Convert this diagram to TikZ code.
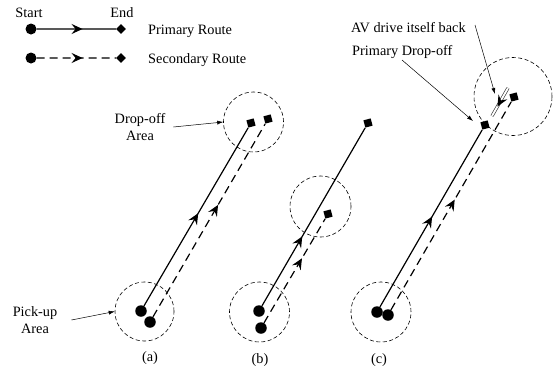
\documentclass[tikz,border=0pt]{standalone}
\usepackage{fontspec}
\setmainfont{Liberation Serif}
\usetikzlibrary{arrows.meta,decorations.markings}

\tikzset{
  midtip/.tip={Stealth[length=11pt,width=10pt,inset=4pt]},
  pickup/.style={circle,fill=black,inner sep=0pt,minimum size=11.5pt},
  dropoff/.style={rectangle,fill=black,inner sep=0pt,minimum size=7.5pt,rotate=#1},
  dropoff/.default=15,
  area/.style={circle,draw,inner sep=0pt,line width=0.6pt,dash pattern=on 4pt off 2.5pt},
  route/.style={line width=1.2pt,postaction={decorate},
    decoration={markings,mark=at position #1 with {\arrow{midtip}}}},
  secroute/.style={route=#1,dash pattern=on 8pt off 5pt},
  labelarrow/.style={line width=0.5pt,-{Latex[length=6pt,width=4pt]}},
  txt/.style={inner sep=0pt,font=\fontsize{14.3}{17.5}\selectfont},
}

\begin{document}
\begin{tikzpicture}[x=1pt,y=-1pt]
\useasboundingbox (0,0) rectangle (557,375);

% legend
\node[txt,anchor=base] (lstart) at (29,17) {Start};
\node[txt,anchor=base] (lend) at (122,17) {End};
\node[pickup,minimum size=11pt] (lS1) at (31,29) {};
\node[dropoff=45,minimum size=7pt] (lE1) at (121,29) {};
\node[pickup,minimum size=11pt] (lS2) at (31,58) {};
\node[dropoff=45,minimum size=7pt] (lE2) at (121,58) {};
\draw[route=0.58] (lS1) -- (lE1);
\draw[secroute=0.58] (lS2) -- (lE2);
\node[txt,anchor=base west] (lprim) at (148,34) {Primary Route};
\node[txt,anchor=base west] (lsec) at (148,63) {Secondary Route};

% (a)
\node[area,minimum size=59pt] (aP) at (144.5,311.5) {};
\node[area,minimum size=60pt] (aD) at (253.5,122) {};
\node[pickup] (aS1) at (141,311) {};
\node[pickup] (aS2) at (150,322) {};
\node[dropoff] (aE1) at (251,123) {};
\node[dropoff] (aE2) at (268,119) {};
\draw[route=0.52] (aS1) -- (aE1);
\draw[secroute=0.58] (aS2) -- (aE2);
\node[txt,align=center] (pulabel) at (35,320) {Pick-up\\Area};
\node[txt,align=center] (dolabel) at (140,127) {Drop-off\\Area};
\draw[labelarrow] ([xshift=14pt]pulabel.east) -- (aP.west);
\draw[labelarrow] ([xshift=8pt]dolabel.east) -- (aD.west);
\node[txt] (capa) at (150,358) {(a)};

% (b)
\node[area,minimum size=60pt] (bP) at (259.5,312) {};
\node[area,minimum size=61pt] (bD) at (320.5,206.5) {};
\node[pickup] (bS1) at (259,311) {};
\node[pickup] (bS2) at (261,328) {};
\node[dropoff] (bE1) at (368,123) {};
\node[dropoff] (bE2) at (328,214) {};
\draw[route=0.39] (bS1) -- (bE1);
\draw[secroute=0.62] (bS2) -- (bE2);
\node[txt] (capb) at (260,360) {(b)};

% (c)
\node[area,minimum size=60pt] (cP) at (381,312) {};
\node[area,minimum size=78pt] (cD) at (513,96.5) {};
\node[pickup] (cS1) at (377,312) {};
\node[pickup] (cS2) at (388,315) {};
\node[dropoff] (cE1) at (485,125) {};
\node[dropoff] (cE2) at (514,97) {};
\draw[route=0.51] (cS1) -- (cE1);
\draw[secroute=0.53] (cS2) -- (cE2);
\node[txt] (capc) at (379,360) {(c)};

% the vehicle returning on its own
\coordinate (avA) at (508,88);
\coordinate (avB) at (492,116);
\draw[line width=0.5pt,double,double distance=2pt] (avA) -- (avB);
\path[line width=1.2pt,postaction={decorate},
  decoration={markings,mark=at position 0.66 with {\arrow{midtip}}}] (avA) -- (avB);

\node[txt,anchor=base west] (avtext) at (351,32) {AV drive itself back};
\node[txt,anchor=base west] (pdtext) at (352,55) {Primary Drop-off};
\coordinate (avtail) at (475,25);
\coordinate (avhead) at (495,94);
\coordinate (pdtail) at (402,60);
\coordinate (pdhead) at (473,121);
\draw[labelarrow] (avtail) -- (avhead);
\draw[labelarrow] (pdtail) -- (pdhead);
\end{tikzpicture}
\end{document}
